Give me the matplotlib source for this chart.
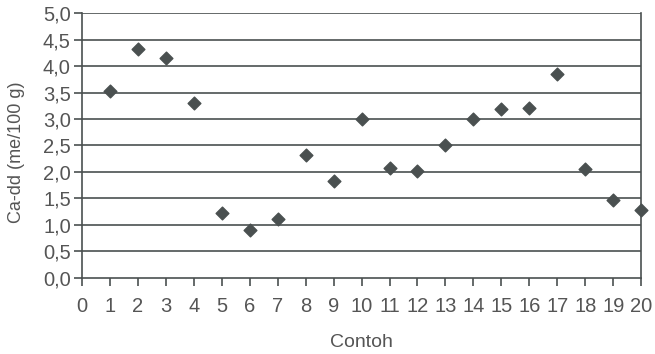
import matplotlib
matplotlib.use("Agg")
import matplotlib.pyplot as plt

# sample number and exchangeable Ca
contoh = [1, 2, 3, 4, 5, 6, 7, 8, 9, 10, 11, 12, 13, 14, 15, 16, 17, 18, 19, 20]
ca_dd = [3.52, 4.32, 4.15, 3.30, 1.23, 0.90, 1.11, 2.32, 1.83, 3.00,
         2.08, 2.02, 2.51, 3.00, 3.19, 3.21, 3.85, 2.06, 1.47, 1.28]
yticks = [0.0, 0.5, 1.0, 1.5, 2.0, 2.5, 3.0, 3.5, 4.0, 4.5, 5.0]

plt.rcParams['font.family'] = ['Liberation Sans', 'DejaVu Sans']
ink = '#4a5050'
txt = '#555555'

fig = plt.figure(figsize=(6.55, 3.54), dpi=100)
ax = fig.add_axes([0.125, 0.215, 0.854, 0.748])

for y in yticks[1:]:
    ax.axhline(y, color=ink, lw=1.2, zorder=1)

ax.scatter(contoh, ca_dd, marker='D', s=42, color=ink, zorder=3, clip_on=False)

ax.set_xlim(0, 20)
ax.set_ylim(0, 5)
ax.set_xticks(range(0, 21))
ax.set_yticks(yticks)
ax.set_yticklabels([('%.1f' % v).replace('.', ',') for v in yticks])

for s in ['left', 'bottom', 'right']:
    ax.spines[s].set_color(ink)
    ax.spines[s].set_linewidth(1.2)
ax.spines['top'].set_visible(False)

ax.tick_params(axis='both', colors=ink, labelcolor=txt, labelsize=14.5,
               length=6, width=1.2, direction='out')
ax.tick_params(axis='x', pad=8)
ax.tick_params(axis='y', pad=2)

ax.set_xlabel('Contoh', fontsize=14, color=txt, labelpad=13)
ax.set_ylabel('Ca-dd (me/100 g)', fontsize=13, color=txt)
ax.yaxis.set_label_coords(-0.102, 0.475)

fig.savefig('out.png', dpi=100)
